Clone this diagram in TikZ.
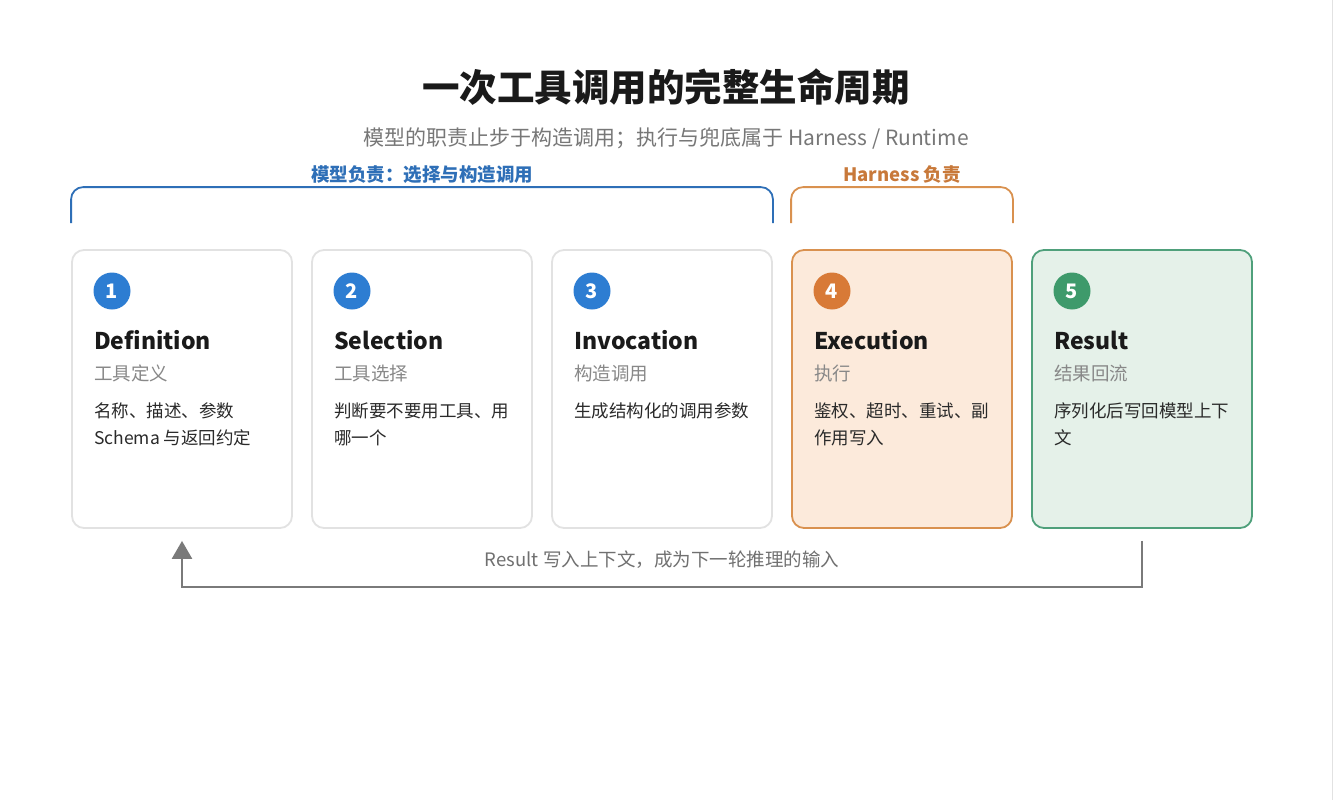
\documentclass[tikz,border=0pt]{standalone}
\usepackage{fontspec}
\setmainfont{Noto Sans CJK SC}
\usetikzlibrary{arrows.meta,calc}
\definecolor{numblue}{HTML}{2D7DD2}
\definecolor{brblue}{HTML}{2E6FB7}
\definecolor{numorange}{HTML}{D87A37}
\definecolor{bdorange}{HTML}{D9914F}
\definecolor{fillorange}{HTML}{FCEADB}
\definecolor{lblorange}{HTML}{C8793A}
\definecolor{numgreen}{HTML}{3E9A6B}
\definecolor{bdgreen}{HTML}{4FA07B}
\definecolor{fillgreen}{HTML}{E5F1E9}
\definecolor{bdgray}{HTML}{E2E2E2}
\definecolor{arrgray}{HTML}{7A7A7A}
\definecolor{lblgray}{HTML}{707070}
\definecolor{subgray}{HTML}{777777}
\definecolor{cardsub}{HTML}{888888}
\definecolor{bodytxt}{HTML}{2A2A2A}
\definecolor{titletxt}{HTML}{1A1A1A}
\tikzset{
  card/.style={draw=bdgray, line width=1.8pt, fill=white, rounded corners=12pt,
    minimum width=220pt, minimum height=278pt, inner sep=0pt},
  num/.style={circle, minimum size=37pt, inner sep=0pt, text=white,
    font=\fontsize{20}{20}\selectfont\bfseries},
  cardtitle/.style={anchor=base west, inner sep=0pt, text=titletxt,
    font=\fontsize{23}{23}\selectfont\bfseries},
  cardsubt/.style={anchor=base west, inner sep=0pt, text=cardsub,
    font=\fontsize{18.5}{18.5}\selectfont},
  cardbody/.style={anchor=north west, inner sep=0pt, text=bodytxt, align=left,
    font=\fontsize{17.5}{27}\selectfont},
  bracket/.style={line width=1.8pt, rounded corners=12pt},
  brlabel/.style={inner sep=0pt, font=\fontsize{18.5}{18.5}\selectfont\bfseries},
}
\begin{document}
\begin{tikzpicture}[x=1pt,y=-1pt]
\useasboundingbox[fill=white] (0,0) rectangle (1333,800);
\draw[bdgray, line width=1pt] (1332.5,0) -- (1332.5,800);

% title
\node[inner sep=0pt, text=titletxt, font=\fontsize{37.5}{37.5}\selectfont\bfseries] (title) at (666,87) {一次工具调用的完整生命周期};
\node[inner sep=0pt, text=subgray, font=\fontsize{21}{21}\selectfont] (subtitle) at (666,139) {模型的职责止步于构造调用；执行与兜底属于 Harness / Runtime};

% cards
\node[card] (c1) at (182,389) {};
\node[card] (c2) at (422,389) {};
\node[card] (c3) at (662,389) {};
\node[card, draw=bdorange, fill=fillorange] (c4) at (902,389) {};
\node[card, draw=bdgreen, fill=fillgreen] (c5) at (1142,389) {};

% brackets
\coordinate (bl1) at ($(c1.north west)+(0,-26)$);
\coordinate (bl2) at ($(c3.north east)+(0,-26)$);
\draw[bracket, brblue] (bl1) -- ++(0,-36) -| (bl2);
\node[brlabel, text=brblue] (lbl1) at (422,175) {模型负责：选择与构造调用};
\coordinate (bh1) at ($(c4.north west)+(0,-26)$);
\coordinate (bh2) at ($(c4.north east)+(0,-26)$);
\draw[bracket, bdorange] (bh1) -- ++(0,-36) -| (bh2);
\node[brlabel, text=lblorange] (lbl2) at (902,175) {Harness 负责};

% numbers
\node[num, fill=numblue] (n1) at (112,291) {1};
\node[num, fill=numblue] (n2) at (352,291) {2};
\node[num, fill=numblue] (n3) at (592,291) {3};
\node[num, fill=numorange] (n4) at (832,291) {4};
\node[num, fill=numgreen] (n5) at (1072,291) {5};

% titles
\node[cardtitle] (h1) at (94,349) {Definition};
\node[cardtitle] (h2) at (334,349) {Selection};
\node[cardtitle] (h3) at (574,349) {Invocation};
\node[cardtitle] (h4) at (814,349) {Execution};
\node[cardtitle] (h5) at (1054,349) {Result};

% subtitles
\node[cardsubt] (s1) at (94,380) {工具定义};
\node[cardsubt] (s2) at (334,380) {工具选择};
\node[cardsubt] (s3) at (574,380) {构造调用};
\node[cardsubt] (s4) at (814,380) {执行};
\node[cardsubt] (s5) at (1054,380) {结果回流};

% bodies
\node[cardbody] (b1) at (94,403) {名称、描述、参数\\Schema 与返回约定};
\node[cardbody] (b2) at (334,403) {判断要不要用工具、用\\哪一个};
\node[cardbody] (b3) at (574,403) {生成结构化的调用参数};
\node[cardbody] (b4) at (814,403) {鉴权、超时、重试、副\\作用写入};
\node[cardbody] (b5) at (1054,403) {序列化后写回模型上下\\文};

% feedback arrow
\coordinate (a0) at ($(c5.south)+(0,12)$);
\coordinate (a1) at ($(c1.south)+(0,12)$);
\draw[arrgray, line width=2.5pt, -{Triangle[width=20pt,length=18pt]}]
  (a0) -- ($(c5.south)+(0,58)$) -- ($(c1.south)+(0,58)$) -- (a1);
\node[inner sep=0pt, text=lblgray, font=\fontsize{18.5}{18.5}\selectfont] (fb) at (662,560) {Result 写入上下文，成为下一轮推理的输入};
\end{tikzpicture}
\end{document}
